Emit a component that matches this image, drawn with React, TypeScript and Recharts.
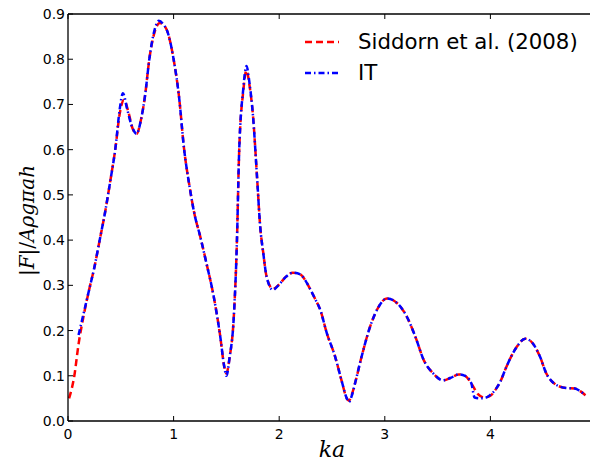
import React from 'react';
import { LineChart, Line, XAxis, YAxis, Legend } from 'recharts';

// Siddorn et al. (2008) reference curve
const siddornKa = [0.01, 0.06, 0.1, 0.15, 0.2, 0.25, 0.3, 0.35, 0.4, 0.45, 0.49, 0.53, 0.57, 0.61, 0.65, 0.69, 0.73, 0.77, 0.82, 0.87, 0.91, 0.95, 1.0, 1.05, 1.1, 1.15, 1.2, 1.25, 1.31, 1.38, 1.44, 1.48, 1.5, 1.53, 1.57, 1.6, 1.62, 1.66, 1.69, 1.72, 1.75, 1.79, 1.82, 1.85, 1.88, 1.94, 2.0, 2.06, 2.13, 2.2, 2.25, 2.29, 2.34, 2.39, 2.45, 2.53, 2.59, 2.64, 2.66, 2.69, 2.72, 2.78, 2.86, 2.94, 3.02, 3.08, 3.14, 3.21, 3.29, 3.37, 3.46, 3.55, 3.62, 3.7, 3.76, 3.82, 3.88, 3.94, 4.0, 4.05, 4.09, 4.15, 4.25, 4.33, 4.4, 4.47, 4.53, 4.58, 4.63, 4.72, 4.8, 4.85, 4.9];
const siddornF = [0.05, 0.1, 0.17, 0.235, 0.29, 0.34, 0.4, 0.46, 0.53, 0.605, 0.68, 0.71, 0.685, 0.648, 0.635, 0.665, 0.72, 0.8, 0.86, 0.88, 0.875, 0.855, 0.8, 0.72, 0.6, 0.52, 0.455, 0.41, 0.35, 0.275, 0.19, 0.12, 0.105, 0.14, 0.23, 0.4, 0.59, 0.73, 0.775, 0.74, 0.68, 0.54, 0.43, 0.37, 0.32, 0.292, 0.302, 0.318, 0.328, 0.324, 0.31, 0.293, 0.27, 0.245, 0.195, 0.142, 0.09, 0.05, 0.045, 0.06, 0.085, 0.142, 0.208, 0.252, 0.271, 0.267, 0.255, 0.23, 0.186, 0.134, 0.105, 0.09, 0.095, 0.103, 0.1, 0.083, 0.06, 0.052, 0.056, 0.07, 0.085, 0.119, 0.164, 0.182, 0.172, 0.142, 0.105, 0.088, 0.079, 0.073, 0.072, 0.066, 0.057];

// IT result
const itKa = [0.1, 0.15, 0.2, 0.25, 0.3, 0.35, 0.4, 0.45, 0.49, 0.52, 0.56, 0.6, 0.65, 0.69, 0.73, 0.77, 0.82, 0.86, 0.9, 0.95, 1.0, 1.05, 1.1, 1.15, 1.2, 1.25, 1.31, 1.38, 1.44, 1.48, 1.5, 1.53, 1.57, 1.6, 1.62, 1.66, 1.69, 1.72, 1.75, 1.79, 1.82, 1.85, 1.88, 1.94, 2.0, 2.06, 2.13, 2.2, 2.25, 2.29, 2.34, 2.39, 2.45, 2.53, 2.59, 2.64, 2.66, 2.69, 2.72, 2.78, 2.86, 2.94, 3.02, 3.08, 3.14, 3.21, 3.29, 3.37, 3.46, 3.55, 3.62, 3.7, 3.76, 3.82, 3.85, 3.9, 3.96, 4.0, 4.05, 4.09, 4.15, 4.25, 4.33, 4.4, 4.47, 4.53, 4.58, 4.63, 4.72, 4.8, 4.85, 4.9];
const itF = [0.19, 0.24, 0.29, 0.34, 0.4, 0.46, 0.53, 0.605, 0.69, 0.725, 0.69, 0.655, 0.635, 0.665, 0.72, 0.8, 0.865, 0.885, 0.878, 0.855, 0.8, 0.72, 0.6, 0.52, 0.455, 0.41, 0.35, 0.275, 0.19, 0.12, 0.1, 0.14, 0.23, 0.4, 0.59, 0.735, 0.785, 0.745, 0.68, 0.54, 0.43, 0.37, 0.32, 0.29, 0.302, 0.318, 0.328, 0.324, 0.31, 0.293, 0.27, 0.245, 0.195, 0.142, 0.09, 0.05, 0.042, 0.058, 0.085, 0.142, 0.208, 0.252, 0.271, 0.267, 0.255, 0.23, 0.186, 0.134, 0.105, 0.09, 0.095, 0.103, 0.1, 0.083, 0.052, 0.05, 0.052, 0.058, 0.07, 0.085, 0.119, 0.164, 0.182, 0.172, 0.142, 0.105, 0.088, 0.079, 0.073, 0.072, 0.066, 0.057];

const xTicks = [0, 1, 2, 3, 4, 5];
const yTicks = [0, 0.1, 0.2, 0.3, 0.4, 0.5, 0.6, 0.7, 0.8, 0.9];
const X_MAX = 5;
const Y_MAX = 0.9;

const siddornData = siddornKa.map((ka, i) => ({ ka, f: siddornF[i] }));
const itData = itKa.map((ka, i) => ({ ka, f: itF[i] }));

const RED_DASH = '7 4';
const BLUE_DASHDOT = '6 3 1.5 3';
const sans = '"DejaVu Sans", sans-serif';
const serif = '"DejaVu Serif", "Liberation Serif", serif';

// chart box and plot-area layout
const W = 590;
const H = 463;
const M = { top: 6, right: 2, bottom: 0, left: 0 };
const Y_AXIS_W = 60;
const X_AXIS_H = 50;
const PLOT_W = W - M.left - M.right - Y_AXIS_W;
const TICK_LEN = 5;
const EDGE = 1.3;

const legendItems = [
  { label: 'Siddorn et al. (2008)', color: '#ff0000', dash: RED_DASH },
  { label: 'IT', color: '#0000ff', dash: BLUE_DASHDOT },
];

const LegendBox = () => (
  <div style={{ fontFamily: sans, fontSize: 21.3, color: '#000', lineHeight: 1 }}>
    {legendItems.map((it) => (
      <div key={it.label} style={{ display: 'flex', alignItems: 'center', height: 31 }}>
        <svg width={40} height={10} style={{ marginRight: 15 }}>
          <line x1={2} y1={5} x2={36} y2={5} stroke={it.color} strokeWidth={2.5} strokeDasharray={it.dash} />
        </svg>
        <span>{it.label}</span>
      </div>
    ))}
  </div>
);

// y-axis title plus the top and right edges of the box (with inward ticks),
// placed from the axis view box handed to the label
const YLabelAndFrame = (props: any) => {
  const vb = props.viewBox || { x: M.left, y: M.top, width: Y_AXIS_W, height: H - M.top - M.bottom - X_AXIS_H };
  const left = vb.x + vb.width;
  const top = vb.y;
  const height = vb.height;
  const right = left + PLOT_W;
  return (
    <g>
      <text
        x={0}
        y={0}
        transform={`translate(${vb.x + 26},${top + height / 2 + 3}) rotate(-90)`}
        textAnchor="middle"
        fontFamily={serif}
        fontSize={20}
        fill="#000"
      >
        <tspan>|</tspan>
        <tspan fontStyle="italic">F</tspan>
        <tspan>|/</tspan>
        <tspan fontStyle="italic">Aρgπah</tspan>
      </text>
      <line x1={left} y1={top} x2={right} y2={top} stroke="#000" strokeWidth={EDGE} />
      <line x1={right} y1={top} x2={right} y2={top + height} stroke="#000" strokeWidth={EDGE} />
      {xTicks.map((t) => {
        const x = left + (PLOT_W * t) / X_MAX;
        return <line key={`t${t}`} x1={x} y1={top} x2={x} y2={top + TICK_LEN} stroke="#000" strokeWidth={1} />;
      })}
      {yTicks.map((t) => {
        const y = top + height * (1 - t / Y_MAX);
        return <line key={`r${t}`} x1={right} y1={y} x2={right - TICK_LEN} y2={y} stroke="#000" strokeWidth={1} />;
      })}
    </g>
  );
};

const frame = { stroke: '#000', strokeWidth: EDGE };

export default function App() {
  return (
    <LineChart width={W} height={H} margin={M}>
      <XAxis
        type="number"
        dataKey="ka"
        domain={[0, X_MAX]}
        allowDataOverflow
        ticks={xTicks}
        interval={0}
        height={X_AXIS_H}
        stroke="#000"
        tickSize={-TICK_LEN}
        tickMargin={13}
        tick={{ fill: '#000', fontFamily: sans, fontSize: 14 }}
        axisLine={frame}
        label={{ value: 'ka', position: 'insideBottom', offset: 14, fill: '#000', fontFamily: serif, fontStyle: 'italic', fontSize: 22 }}
      />
      <YAxis
        type="number"
        dataKey="f"
        domain={[0, Y_MAX]}
        allowDataOverflow
        ticks={yTicks}
        interval={0}
        width={Y_AXIS_W}
        stroke="#000"
        tickSize={-TICK_LEN}
        tickMargin={8}
        tickFormatter={(v: number) => v.toFixed(1)}
        tick={{ fill: '#000', fontFamily: sans, fontSize: 14 }}
        axisLine={frame}
        label={(p: any) => <YLabelAndFrame {...p} />}
      />
      <Line
        data={siddornData}
        dataKey="f"
        type="monotone"
        stroke="#ff0000"
        strokeWidth={2.5}
        strokeDasharray={RED_DASH}
        dot={false}
        isAnimationActive={false}
      />
      <Line
        data={itData}
        dataKey="f"
        type="monotone"
        stroke="#0000ff"
        strokeWidth={2.5}
        strokeDasharray={BLUE_DASHDOT}
        dot={false}
        isAnimationActive={false}
      />
      <Legend
        layout="vertical"
        align="center"
        verticalAlign="middle"
        content={<LegendBox />}
        wrapperStyle={{ position: 'absolute', left: 295, top: 18, width: 295, height: 70 }}
      />
    </LineChart>
  );
}
